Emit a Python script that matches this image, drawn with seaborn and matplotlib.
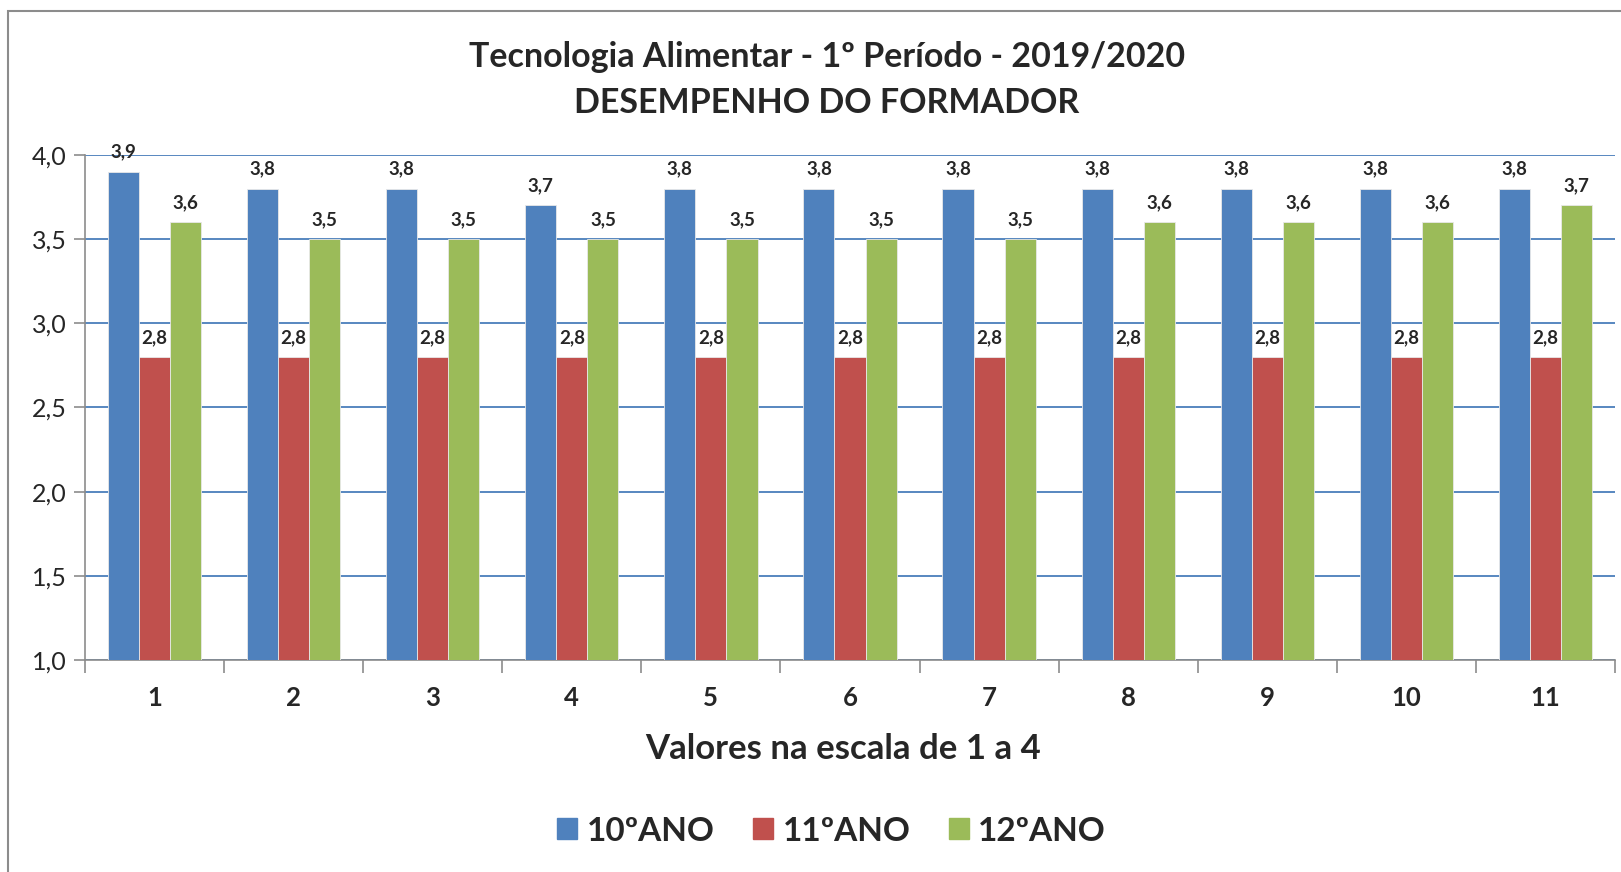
import matplotlib
matplotlib.use("Agg")
import matplotlib.pyplot as plt
import pandas as pd
import seaborn as sns
from matplotlib.patches import Rectangle

# dados do gráfico
categorias = ['1', '2', '3', '4', '5', '6', '7', '8', '9', '10', '11']
series = ['10ºANO', '11ºANO', '12ºANO']
ano10 = [3.9, 3.8, 3.8, 3.7, 3.8, 3.8, 3.8, 3.8, 3.8, 3.8, 3.8]
ano11 = [2.8, 2.8, 2.8, 2.8, 2.8, 2.8, 2.8, 2.8, 2.8, 2.8, 2.8]
ano12 = [3.6, 3.5, 3.5, 3.5, 3.5, 3.5, 3.5, 3.6, 3.6, 3.6, 3.7]
cores = ['#4F81BD', '#C0504D', '#9BBB59']

linhas = []
for serie, valores in zip(series, [ano10, ano11, ano12]):
    for c, v in zip(categorias, valores):
        linhas.append({'Item': c, 'Ano': serie, 'Valor': v})
df = pd.DataFrame(linhas)

sns.set_style("white")
plt.rcParams['font.family'] = ['Lato', 'DejaVu Sans']

fig = plt.figure(figsize=(16.21, 8.72), dpi=100)
ax = fig.add_axes([85 / 1621, 212 / 872, 1530 / 1621, 505 / 872])

sns.barplot(data=df, x='Item', y='Valor', hue='Ano', palette=cores,
            width=0.67, saturation=1, ax=ax, legend=False,
            edgecolor='#e8e8e8', linewidth=0.6, zorder=3)

for cont in ax.containers:
    ax.bar_label(cont, labels=[f"{b.get_height():.1f}".replace('.', ',') for b in cont],
                 padding=8, fontsize=13.5, fontweight='bold')

ax.set_ylim(1.0, 4.0)
ax.set_xlim(-0.5, len(categorias) - 0.5)
ax.set_yticks([1.0, 1.5, 2.0, 2.5, 3.0, 3.5, 4.0])
ax.set_yticklabels([f"{t:.1f}".replace('.', ',') for t in ax.get_yticks()], fontsize=18)
ax.yaxis.grid(True, color='#4A7EBB', linewidth=1.3, zorder=0)
ax.set_axisbelow(True)

for s in ['top', 'right']:
    ax.spines[s].set_visible(False)
for s in ['left', 'bottom']:
    ax.spines[s].set_color('#8c8c8c')
    ax.spines[s].set_linewidth(1.2)

ax.tick_params(axis='y', length=8, width=1.2, color='#8c8c8c', left=True, pad=5)
ax.set_xticks(range(len(categorias)))
ax.set_xticklabels(categorias, fontsize=18.5, fontweight='bold')
ax.tick_params(axis='x', length=0, pad=19)
ax.set_xticks([i - 0.5 for i in range(len(categorias) + 1)], minor=True)
ax.tick_params(axis='x', which='minor', length=9, width=1.2, color='#8c8c8c', bottom=True)
ax.set_xlabel('')
ax.set_ylabel('')

fig.text(0.510, 1 - 57 / 872, 'Tecnologia Alimentar - 1º Período - 2019/2020',
         ha='center', va='center', fontsize=24.5, fontweight='bold')
fig.text(0.510, 1 - 103 / 872, 'DESEMPENHO DO FORMADOR',
         ha='center', va='center', fontsize=24.5, fontweight='bold')
fig.text(0.520, 1 - 749 / 872, 'Valores na escala de 1 a 4',
         ha='center', va='center', fontsize=25, fontweight='bold')

handles = [Rectangle((0, 0), 1, 1, color=c) for c in cores]
fig.legend(handles, series, loc='center', bbox_to_anchor=(0.513, 1 - 831 / 872),
           ncol=3, frameon=False, prop={'size': 24, 'weight': 'bold'},
           handlelength=0.6, handleheight=0.6, columnspacing=1.15, handletextpad=0.28)

# moldura do gráfico
fig.patches.append(Rectangle((8 / 1621, -0.05), 1.1, 1 - 11 / 872 + 0.05,
                             transform=fig.transFigure, fill=False,
                             edgecolor='#8c8c8c', linewidth=1.5))

fig.savefig('out.png', dpi=100)
